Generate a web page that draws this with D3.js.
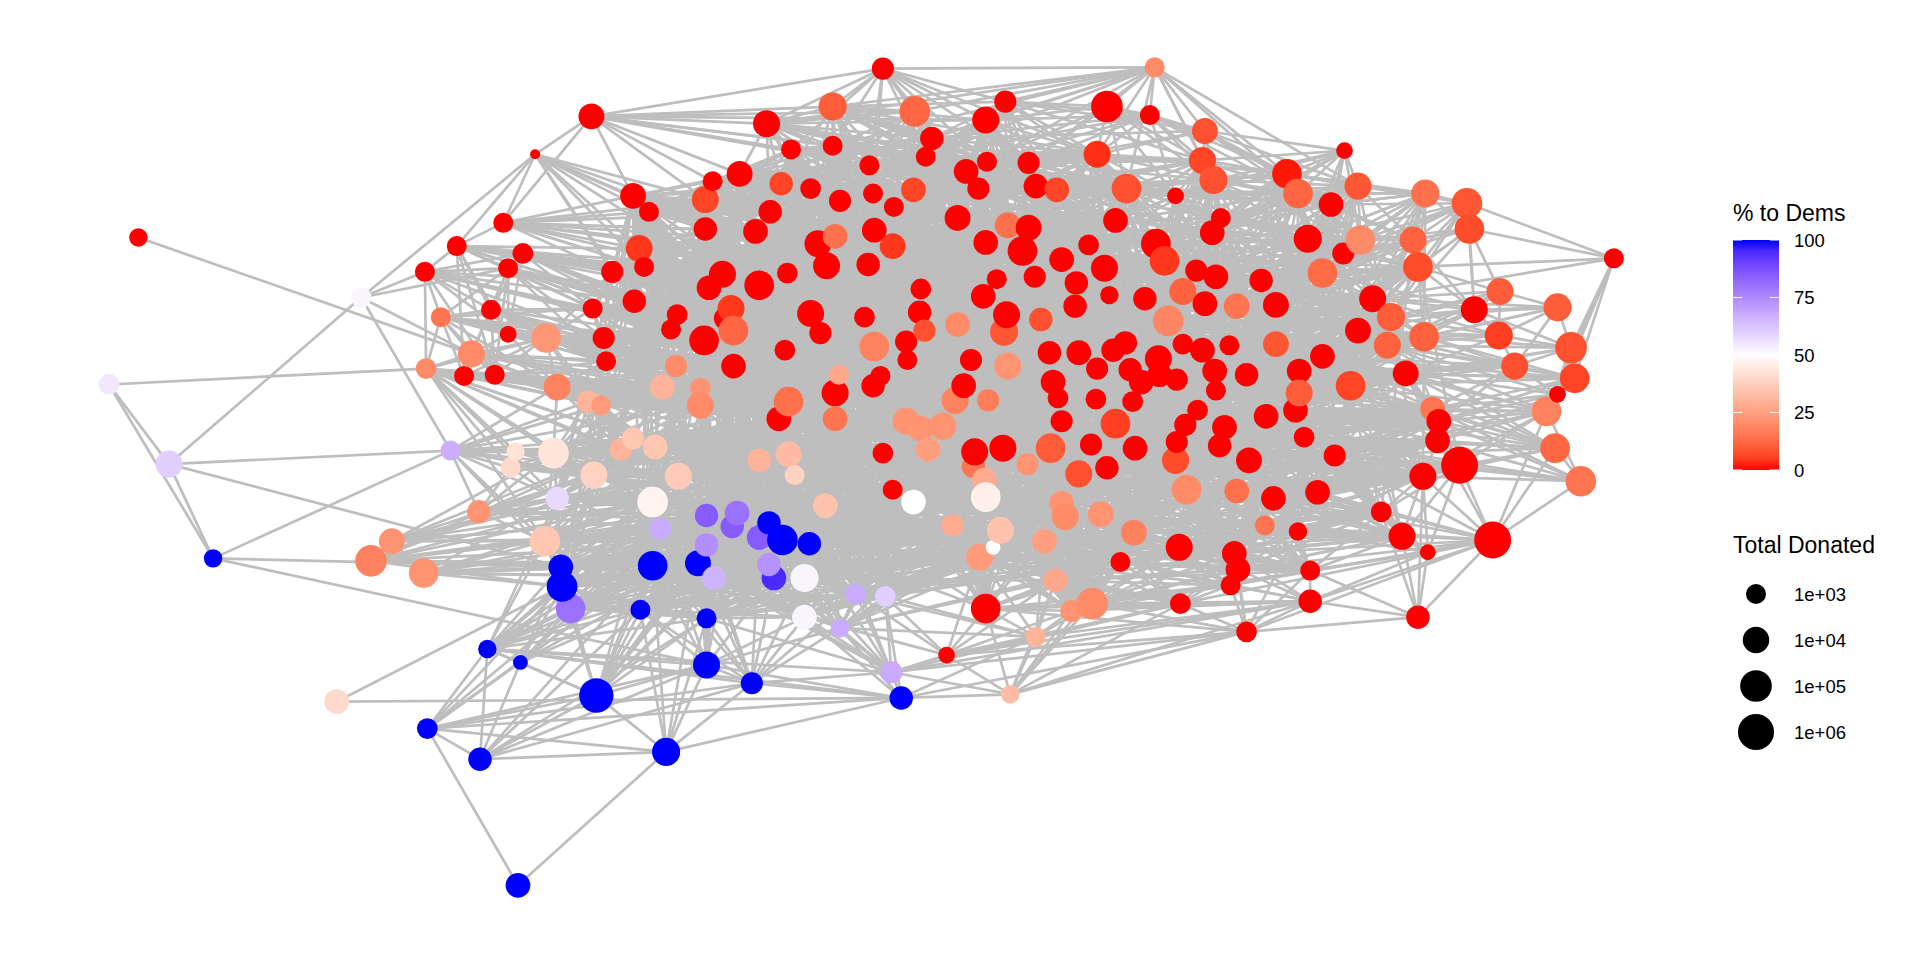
<!DOCTYPE html>
<html>
<head>
<meta charset="utf-8">
<script src="https://d3js.org/d3.v7.min.js"></script>
<style>
  html, body { margin: 0; padding: 0; background: #fff; }
  svg { display: block; font-family: "Liberation Sans", Arial, sans-serif; }
</style>
</head>
<body>
<div id="chart"></div>
<script>
// node layout position (layout units, 1568 x 784)
const nodeX = [
  89,113,138,174,275,295,303,320,346,347,
  348,349,360,368,373,379,385,391,392,398,
  401,404,411,415,415,417,421,423,425,427,
  437,445,446,452,455,455,458,466,459,480,
  483,484,485,487,491,493,495,500,507,517,
  517,518,522,523,526,530,533,533,535,539,
  541,544,548,552,553,554,570,572,572,575,
  576,576,577,577,577,577,579,582,583,590,
  592,597,598,599,599,602,604,614,617,620,
  620,620,626,628,632,628,629,636,638,639,
  641,643,644,644,646,649,657,657,661,662,
  662,668,670,674,675,680,680,682,682,682,
  685,686,686,699,706,709,710,713,713,714,
  714,719,721,721,723,728,729,729,730,736,
  740,740,741,746,746,747,751,752,752,755,
  756,758,761,770,773,778,780,782,782,787,
  789,793,795,796,799,800,803,804,805,805,
  805,805,806,807,811,814,817,819,820,821,
  822,823,823,825,835,839,840,840,845,846,
  846,850,853,857,858,860,862,863,864,867,
  867,867,870,875,878,879,881,881,889,891,
  892,895,896,896,899,902,904,904,906,909,
  911,911,915,919,920,923,925,926,927,932,
  935,939,943,944,946,947,951,954,960,960,
  961,961,963,964,966,966,968,969,977,978,
  982,982,984,984,990,991,992,993,993,996,
  997,1000,1004,1005,1008,1010,1010,1011,1018,1018,
  1020,1030,1033,1034,1040,1042,1042,1051,1058,1060,
  1060,1061,1061,1065,1068,1070,1070,1076,1080,1080,
  1087,1090,1097,1098,1103,1109,1109,1111,1121,1128,
  1133,1136,1145,1148,1154,1158,1158,1162,1163,1164,
  1166,1170,1174,1175,1192,1198,1200,1204,1219,1224,
  1225,1237,1263,1270,1272,1272,1283,1286,1291,1318,
];
const nodeY = [
  314,194,379,456,573,243,458,442,468,222,
  301,595,259,368,201,307,289,418,620,530,
  253,306,182,219,273,382,369,723,541,207,
  126,442,276,370,316,407,463,497,479,328,
  95,252,388,568,331,276,295,222,367,160,
  358,246,203,498,218,173,410,462,365,432,
  316,614,269,299,257,389,460,317,331,278,
  163,187,421,445,505,543,235,148,472,224,
  260,252,430,270,299,419,142,558,189,233,
  376,439,101,427,472,461,173,342,150,441,
  286,223,328,371,122,388,472,504,444,154,
  256,199,272,413,217,87,119,193,321,342,
  306,164,513,485,259,216,135,158,315,188,
  283,307,56,370,487,549,201,400,169,570,
  279,344,294,155,410,91,255,236,350,270,
  128,367,113,348,535,429,327,178,265,315,
  140,294,381,369,154,455,242,392,98,198,
  406,497,132,327,447,228,433,366,271,83,
  257,184,299,567,205,379,133,186,226,152,
  520,261,442,288,366,312,474,155,325,212,
  344,411,422,499,250,231,288,387,200,363,
  493,326,126,301,420,219,87,382,241,286,
  180,346,459,280,154,302,328,435,366,312,
  244,94,55,199,293,306,213,262,160,376,
  310,361,447,493,238,281,347,400,221,335,
  131,286,107,248,190,147,303,226,319,364,
  178,349,282,478,452,250,401,465,306,516,
  376,229,429,340,407,249,281,142,335,158,
  434,303,321,357,195,466,491,402,223,291,
  167,372,207,123,315,152,270,196,244,418,
  282,259,438,305,196,218,504,389,275,158,
  451,334,360,344,380,166,187,253,441,274,
  238,299,336,366,251,322,284,309,393,211,
];
// % of donations going to Democrats
const nodePct = [
  55,0,60,100,40,52,18,22,22,0,
  20,100,15,67,0,0,20,22,100,100,
  0,0,0,0,0,40,42,100,100,0,
  0,35,23,43,18,58,100,80,100,30,
  0,0,38,100,24,0,0,0,30,0,
  35,0,4,100,0,0,47,100,35,68,
  30,100,0,20,0,36,100,22,20,0,
  6,0,85,74,100,100,0,0,66,0,
  0,4,85,12,0,80,0,100,0,0,
  30,85,0,100,95,73,0,0,6,100,
  0,0,14,32,0,38,52,52,100,0,
  0,0,0,34,0,10,0,14,0,15,
  27,0,68,68,0,0,0,0,0,0,
  18,0,0,0,60,68,4,0,0,100,
  0,22,0,6,50,12,0,0,22,8,
  0,25,0,22,0,28,18,0,20,0,
  0,0,15,0,0,24,0,28,0,0,
  46,0,0,17,50,0,34,0,9,0,
  0,14,22,32,0,22,0,0,0,0,
  30,8,25,0,10,0,27,6,0,0,
  0,22,20,22,0,0,0,8,0,0,
  20,0,3,0,22,0,0,0,0,0,
  0,5,0,0,8,0,0,18,0,0,
  0,0,20,0,0,0,4,19,0,7,
  0,0,0,0,11,0,0,20,0,0,
  6,0,8,0,0,8,0,0,0,0,
  0,0,0,0,0,15,14,0,0,0,
  0,0,15,0,0,0,9,1,0,12,
  0,0,10,0,0,0,0,0,13,0,
  0,0,0,0,6,9,0,20,0,0,
  11,10,0,0,11,7,0,0,11,14,
  0,15,0,0,0,9,7,0,0,5,
  10,8,18,12,10,0,8,6,15,0,
];
// log10 of total donated
const nodeLogTotal = [
  3.1,2.8,4.1,2.8,3.7,3.1,5.0,3.9,4.6,3.0,
  3.1,3.1,3.0,3.0,3.0,3.0,4.1,3.5,3.5,2.8,
  3.0,3.0,3.0,3.0,2.6,3.0,2.8,3.7,2.4,3.1,
  2.0,4.8,4.6,4.8,4.1,3.5,3.7,4.6,4.8,3.3,
  3.9,3.0,4.1,5.6,3.0,3.3,3.0,3.3,3.3,3.9,
  3.3,3.5,4.1,3.0,3.0,3.0,4.8,4.6,3.7,3.3,
  3.7,4.3,3.0,3.3,3.1,4.1,3.9,3.1,4.1,4.6,
  4.1,3.5,3.5,3.5,3.0,4.1,3.7,3.0,3.5,4.1,
  3.3,4.1,3.5,4.6,3.7,3.7,3.9,3.3,3.7,4.6,
  3.5,3.7,4.1,3.5,3.7,3.5,3.5,3.7,3.5,4.8,
  3.1,3.1,4.6,3.9,3.0,3.0,4.3,3.7,3.5,3.1,
  4.1,4.1,3.3,3.7,4.1,4.3,3.0,3.7,4.1,3.7,
  3.0,3.3,2.8,3.1,3.1,3.5,3.0,3.0,3.5,3.7,
  4.6,3.0,3.3,3.1,3.1,3.3,3.9,3.0,3.0,3.5,
  3.3,4.1,3.0,3.7,3.7,4.8,3.5,3.1,3.9,3.3,
  3.0,3.7,3.5,4.1,2.6,3.3,4.1,3.9,3.7,3.7,
  3.7,3.3,3.5,4.1,3.3,4.1,3.7,3.7,4.1,3.7,
  4.6,4.6,3.0,3.3,2.4,3.0,4.1,4.1,4.3,3.3,
  4.1,3.9,4.1,2.8,4.6,3.3,3.3,3.9,3.3,3.7,
  3.0,3.5,3.7,3.5,4.6,3.7,3.5,3.7,3.1,3.7,
  3.3,3.7,4.1,3.3,3.5,3.5,3.7,4.1,3.1,3.3,
  5.0,3.1,4.1,3.3,3.9,4.1,5.0,3.5,2.8,3.5,
  3.7,4.6,3.0,3.5,4.6,3.5,3.1,3.9,3.7,3.7,
  3.5,3.0,3.0,4.6,4.1,3.7,4.6,4.8,2.6,4.1,
  3.3,3.3,4.1,3.1,4.1,3.1,3.3,4.6,3.3,3.1,
  4.1,3.7,3.9,3.7,3.7,4.3,3.7,3.7,3.0,3.5,
  3.0,3.7,3.0,3.0,3.7,3.9,3.7,3.7,3.5,3.1,
  3.9,3.5,3.0,3.7,3.7,3.9,3.9,4.6,3.7,4.6,
  2.8,3.7,4.1,3.1,4.3,3.0,3.5,3.7,4.6,3.7,
  3.7,3.3,3.3,2.6,4.6,4.1,3.9,4.6,4.1,3.1,
  4.1,4.3,4.1,3.9,4.1,4.6,3.5,4.1,4.6,4.3,
  2.5,3.7,3.7,3.7,6.2,4.8,4.6,4.1,6.2,4.3,
  4.1,4.1,4.6,4.6,4.3,2.6,5.0,4.6,4.8,3.0,
];

// edges around the outside of the graph, readable one by one
const linksOuter = [
  [1,[16]],[5,[2,9,13,16,23,30]],[0,[2,3,10]],[2,[3,13,36]],[3,[13,36,75]],[4,[38,139]],[27,[11,61]],
  [6,[7,31,36,38,42,48,56,57,58,66,72,90,99,113,144]],
  [7,[8,31,33,35,42,48,56,65,72,85,91,103,113]],
  [8,[31,36,38,35,56,57,59,66,78,82,94,108,106]],
  [17,[13,25,31,33,35,42,56,59,65,72,85,93,103]],
  [13,[25,26,31,33,35,36,42,48,50,58,65,60,34,39,44,68,90]],
  [9,[10,14,12,20,21,23,29,24,41,45,51,62,69,76]],
  [14,[22,23,15,20,24,21,29,47,41,51,52,64,79,89,101,110]],
  [22,[49,52,47,54,55,70,71,76,79,88,96,111,114,125]],
  [29,[20,24,47,41,51,54,62,64,76,89,100,110,124]],
  [23,[20,24,12,16,21,41,45,46,51,62,69,83,100,112]],
  [20,[12,16,21,24,32,41,45,46,63,67,84,100,118]],
  [12,[16,21,10,15,24,32,34,41,45,46,63,69,84]],
  [24,[16,32,34,45,46,63,67,84,118,130]],
  [10,[16,15,21,32,34,39,44,25,26,33,48,50,35,31,58,65,42,60]],
  [15,[16,21,32,34,39,44,60,67,68,97,102]],
  [16,[21,32,34,39,44,60,63,67,84,97,118]],
  [21,[32,34,39,44,46,60,63,68,84,102,118]],
  [25,[26,33,35,42,48,65,90,103,105,113]],
  [26,[33,42,48,50,58,65,90,103]],
  [30,[40,14,22,49,55,47,54,52,70,71,51,79,88]],
  [40,[92,132,115,145,168,86,104,116,49,22,70,77,126,150]],
  [132,[232,92,115,145,168,104,116,126,127,152,150,179,172,186,212,160]],
  [232,[115,145,92,116,150,152,168,179,172,186,216,212,231,252,250,255,224,277,279,295]],
  [329,[315,316,305,298,326,327,322,325]],
  [293,[252,277,279,295,290,255,250,284,297,238,260,254,288]],
  [315,[316,309,295,297,304,305,292,290,284,288,298,301,317]],
  [316,[309,297,304,305,292,288,298,301,317,320]],
  [309,[295,304,297,284,290,292,305,288,279,277]],
  [320,[305,298,301,308,317,319,296,300]],
  [324,[317,319,320,308,300,301,321,326,298]],
  [326,[319,321,317,308,300,303,327,294,322]],
  [327,[321,322,325,300,303,294,289,311,313,281,308]],
  [325,[322,321,311,313,300,303,312]],
  [322,[311,313,312,303,300,294,289,314,307,291,278]],
  [323,[311,312,313,314,303,294,300,289,291,278,283,307,318]],
  [328,[314,307,312,313,322,323,318,311,283,291]],
  [319,[308,300,303,298,296,301,317,321]],
  [321,[303,294,300,308,311,313,296,289,281]],
  [317,[305,298,301,308,300,296,288,304]],
  [318,[314,307,302,310,299,291,287,280,274,285,286,306,243,263,264,267,272,322,312,269]],
  [306,[310,302,299,286,285,269,307]],
  [310,[302,299,287,280,285,307,314,286]],
  [302,[299,280,285,274,287,291,314,307,272,267,264]],
  [299,[280,272,285,287,274,291,267,264,307,314,242]],
  [307,[314,291,287,274,283,278,270,266,239,247,312]],
  [269,[286,243,263,267,285,280,183,139,135,154,171,210,264]],
  [286,[285,243,263,267,264,222,183,190,135,154,171,210,203]],
  [243,[263,267,264,222,210,203,196,171,190,154,183,135]],
  [263,[267,264,222,210,227,214,171,192,196]],
  [285,[264,267,272,274,242,247,227,214,222]],
  [183,[154,135,171,190,139,203,210,196,222]],
  [190,[154,171,134,135,139,123,122,196,203,210,165,192]],
  [154,[135,171,134,123,107,203,196,165]],
  [135,[139,87,122,123,134,74,94,107,106,108,78,66,113]],
  [139,[87,61,75,122,134,107]],
  [87,[61,75,74,53,57,66,78,94,107,106,122,123,73,91]],
  [75,[61,43,74,53,57,66,78,73,94,59,82,72,107,122]],
  [61,[43,53,57,66,74]],
  [43,[11,18,19,28,53,57,36,37,38,66,56,59,72,73,74,78,82,85,91]],
  [11,[18,19,28,61,75,87,139,37,38,57]],
  [18,[19,28,61,75,87,53,74,57]],
  [19,[28,36,37,38,31,35,53,56,57,59,66,74,78,72,73,75,87,139,135]],
  [28,[53,36,38,37,57,66,59]],
];

// the solid core: too dense to read edge by edge, these are estimated to fill the same area
const linksCoreLeft = [
  [53,[36,37,38,31,56,57,59,66,72,73,74,78,82,85,91,93,94,99,106,107,108,113,123,144,155,165]],
  [74,[37,38,56,57,59,66,72,73,78,82,85,91,94,99,106,107,108,113,123,134,144,155,165,176,201]],
  [107,[57,59,66,72,73,78,85,91,94,95,99,106,108,113,123,134,144,155,165,174,192,214,227]],
  [122,[66,78,91,94,106,108,113,123,134,144,155,165,176,192,196,201,222]],
  [123,[78,94,106,108,113,134,144,155,165,176,192,201,214,227,222,242]],
  [134,[106,108,113,144,155,165,176,192,201,214,227,222,242,207,247]],
  [31,[33,36,37,38,35,42,56,57,59,65,66,72,85,93,99,113,144,155,176,201,242]],
  [32,[34,41,45,46,39,60,63,69,83,84,100,110,112,118,124,130,146,158,161,191]],
  [33,[34,35,42,48,50,58,65,90,97,103,105,119,133,141,156,163,177,194]],
  [34,[39,44,46,60,63,67,68,84,97,102,118,128,131,159,173,195,213]],
  [35,[36,42,56,59,65,72,85,90,93,103,113,137,144,155,162,167]],
  [36,[37,38,56,57,59,66,72,73,78,82,91,94,99,113,144,155,176]],
  [37,[38,53,57,59,66,73,78,94,106,108,123,134,165]],
  [38,[56,57,59,66,73,78,94,99,106,108,155,165,176]],
  [39,[44,48,50,58,60,68,97,102,119,128,141,156,173,198]],
  [41,[45,47,51,62,64,69,76,80,81,83,89,100,110,124,146,147,158,166]],
  [42,[48,56,58,65,72,85,90,103,105,113,133,137,151,155,162,167,185]],
  [44,[48,50,58,60,63,67,68,97,102,118,119,141,148,156]],
  [45,[46,51,62,63,64,69,80,83,84,100,112,124,130,140,149,161,193]],
  [46,[60,63,67,68,84,100,112,118,120,128,131,142,159,193,195]],
  [47,[49,51,52,54,55,76,79,81,89,101,111,114,125,136,147,166,175]],
  [48,[50,56,58,65,90,97,103,105,119,133,141,148,151,163]],
  [49,[52,54,55,70,71,77,79,86,88,96,98,109,111,117,129,136,157]],
  [50,[58,60,65,68,90,97,102,103,119,133,141,153,163,177]],
  [51,[52,54,62,64,69,76,79,80,81,83,89,101,110,114,124,146,147,166,180]],
  [52,[54,55,70,71,76,79,88,89,96,101,111,114,125,136,147,157,169,175]],
  [54,[55,71,76,79,81,88,89,101,111,114,125,129,136,147,166,169,175,184]],
  [55,[70,71,77,79,86,88,96,98,109,111,117,121,129,138,157,164]],
  [56,[57,59,65,72,82,85,90,93,103,105,113,137,144,155,167,176,202,214]],
  [57,[59,66,72,73,78,82,91,93,94,99,106,108,113,144,165,176,201]],
  [58,[60,65,68,90,97,102,103,119,133,141,151,153,163,177,194]],
  [59,[66,72,73,78,82,85,91,93,94,99,108,113,144,155,176,192,201]],
  [60,[63,67,68,84,97,102,118,120,128,131,156,159,173,195,198]],
  [62,[63,64,69,80,81,83,84,100,110,112,124,130,140,146,149,158,178]],
  [63,[67,68,69,83,84,97,100,112,118,120,128,131,142,159,161,193,213]],
  [64,[69,76,79,80,81,83,89,101,110,124,146,147,158,166,180,191]],
  [65,[66,72,85,90,97,103,105,113,119,133,137,151,155,162,167,185]],
  [66,[72,73,78,82,91,93,94,95,99,106,108,113,144,165,174,192]],
  [67,[68,84,97,102,118,120,128,131,142,156,159,173,182,195,213,225]],
  [68,[90,97,102,103,118,119,128,141,153,156,173,198,200,211,226]],
  [69,[80,83,84,100,110,112,124,130,140,146,149,161,178,193,206,219]],
  [70,[71,77,86,88,96,98,109,111,117,121,127,129,136,138,143,157,164]],
  [71,[76,79,88,96,101,111,114,117,125,129,136,147,157,169,181,187]],
  [72,[73,82,85,90,91,93,99,103,105,113,137,144,155,167,170,176]],
  [73,[78,82,91,93,94,95,99,108,113,144,155,165,176]],
  [76,[79,81,89,101,110,114,125,146,147,166,175,180,188,204]],
  [77,[86,96,98,104,109,116,121,126,127,138,143,150,160,164,186]],
  [78,[94,95,99,106,108,113,144,165,174,176,192]],
  [79,[88,89,101,111,114,125,136,147,166,169,175,184,188,199]],
  [80,[81,83,100,110,112,124,130,146,149,158,178,191,204]],
  [81,[89,100,110,124,146,147,158,166,180,191,204,218]],
  [83,[84,100,112,130,140,142,149,161,178,193,206,223]],
  [84,[97,100,102,112,118,120,128,130,131,142,159,161,182,193,213,225,235]],
  [85,[90,91,93,103,105,113,137,144,155,162,167,170,176,201]],
  [86,[92,96,98,104,109,116,121,126,127,138,143,150,152,160,164,172]],
  [88,[89,96,101,111,114,117,125,129,136,157,169,181,184,187,199,208]],
  [89,[101,110,114,124,125,146,147,166,175,180,188,204,205,218]],
  [90,[97,103,105,119,133,137,141,151,153,162,163,167,185,207]],
  [91,[93,94,99,108,113,144,155,165,176,192,201,214]],
  [92,[96,98,104,109,115,116,121,126,127,138,145,150,152,160,168,172,186]],
  [93,[99,105,108,113,137,144,155,167,170,176,202]],
  [94,[95,99,106,108,144,165,174,192,196]],
  [95,[99,106,108,113,144,165,176]],
  [96,[98,109,111,117,121,127,129,136,138,143,157,164,181,187,189]],
  [97,[102,103,118,119,128,133,141,148,151,153,156,163,177,194,200,209]],
  [98,[104,109,116,121,126,127,138,143,150,160,164,172,189,197]],
  [99,[106,108,113,137,144,155,165,167,170,176,192,202,214]],
  [100,[102,112,118,120,128,130,131,140,142,149,159,161,178,193,206,213]],
  [101,[110,111,114,124,125,136,146,147,166,175,180,188,205]],
  [102,[103,118,119,128,131,141,148,153,156,159,173,177,194,198,200,211]],
  [103,[105,119,133,137,141,148,151,153,162,163,167,177,185,207,209]],
  [104,[109,116,121,126,127,138,143,150,152,160,164,172,186,189]],
  [105,[113,133,137,144,151,155,162,167,170,185,201]],
  [106,[107,108,113,123,134,144,165,174,176,192,196,222]],
  [108,[113,137,144,155,165,170,176,192,201,202,214,227]],
  [109,[116,117,121,126,127,129,138,143,157,160,164,181,189,197]],
  [110,[112,114,124,125,130,140,146,147,149,158,166,178,180,191,204]],
  [111,[114,117,125,129,136,147,157,169,175,181,184,187,188,199,208]],
  [112,[118,120,124,130,140,142,146,149,158,161,178,193,206,219]],
  [113,[133,137,144,151,155,162,165,167,170,176,185,192,201,202,214]],
  [114,[117,125,129,136,146,147,166,169,175,180,184,188,199,205,215]],
  [115,[116,126,127,138,145,150,152,160,164,168,172,179,186,189,212]],
  [116,[121,126,127,138,143,150,152,160,164,172,186,189,197,212]],
  [117,[121,125,129,136,138,157,169,181,184,187,199,208,220]],
  [118,[119,120,128,131,141,142,156,159,173,182,195,198,211,213,226]],
  [119,[133,141,148,151,153,156,163,173,177,185,194,200,209]],
  [120,[128,130,131,142,156,159,161,173,182,193,195,213]],
  [121,[126,127,129,136,138,143,157,160,164,181,187,189,197,220,224]],
];
const linksCoreMiddle = [
  [124,[125,130,140,146,147,149,158,166,178,180,191,204,218]],
  [125,[129,136,146,147,166,169,175,180,184,188,199,205,215]],
  [126,[127,138,143,150,152,160,164,172,186,189,197,212,224]],
  [127,[129,136,138,143,157,160,164,181,187,189,197,220,224]],
  [128,[130,131,141,142,156,159,161,173,182,195,198,211,225,226]],
  [129,[136,138,143,157,169,181,184,187,199,208,220,233]],
  [130,[131,140,142,149,158,159,161,178,182,193,206,213,219,223]],
  [131,[141,142,156,159,161,173,182,195,198,213,225,229]],
  [133,[137,141,144,148,151,153,162,163,167,177,185,194,207,209,217]],
  [136,[138,143,147,157,166,169,175,181,184,187,199,205,208,215]],
  [137,[144,151,155,162,167,170,176,185,201,202,214]],
  [138,[143,157,160,164,181,187,189,197,220,224,233]],
  [140,[142,146,149,158,161,178,180,191,193,206,219,223,237]],
  [141,[148,151,153,156,163,173,177,194,198,200,209,221]],
  [142,[149,156,159,161,173,178,182,193,195,206,213,225]],
  [143,[157,160,164,172,181,186,187,189,197,212,220,224]],
  [144,[151,155,162,165,167,170,174,176,185,192,201,202,207,214,217]],
  [146,[147,149,158,166,175,178,180,188,191,204,205,218,230]],
  [147,[158,166,169,175,180,184,188,199,204,205,215,218,230]],
  [148,[151,153,156,163,177,185,194,200,209,221,228]],
  [149,[158,161,178,180,191,193,204,206,219,223,237,245]],
  [150,[152,160,164,168,172,179,186,189,197,212,224,231,250]],
  [151,[153,162,163,167,177,185,194,207,209,217,228]],
  [152,[160,164,168,172,179,186,189,197,212,224,231,252]],
  [153,[156,163,173,177,185,194,198,200,209,211,221,228]],
  [155,[162,165,167,170,174,176,185,192,201,202,207,214,222,227]],
  [156,[159,163,173,177,182,194,195,198,200,211,213,226,229]],
  [157,[164,169,181,184,187,189,199,208,215,220,233,236]],
  [158,[161,166,178,180,191,193,204,206,218,219,223,230,237]],
  [159,[161,173,182,195,198,211,213,225,226,229,235]],
  [160,[164,172,181,186,187,189,197,212,220,224,238]],
  [161,[173,178,182,193,195,206,213,219,223,225,235]],
  [162,[163,167,170,177,185,194,201,202,207,209,217,228,239]],
  [163,[173,177,185,194,200,207,209,217,221,228,241]],
  [164,[172,181,186,187,189,197,208,212,220,224,233,238]],
  [165,[170,174,176,192,196,201,202,203,210,214,222,227,242]],
  [166,[175,178,180,184,188,191,204,205,215,218,230,244]],
  [167,[170,176,185,192,201,202,207,214,217,227,239,247]],
  [168,[172,179,186,189,197,212,216,224,231]],
  [169,[175,181,184,187,188,199,205,208,215,220,233,236]],
  [170,[176,185,192,201,202,207,214,217,227,239,247]],
  [171,[196,203,210,176,192,201,222,242,165]],
  [172,[179,186,189,197,212,216,224,231,238,250]],
  [173,[177,182,194,195,198,200,211,213,226,229,240,249]],
  [174,[176,192,196,201,202,214,222]],
  [175,[180,184,188,191,199,204,205,215,218,230,244,257]],
  [176,[185,192,196,201,202,214,222,227,242,247]],
  [177,[185,194,200,207,209,217,221,228,239,241,246]],
  [178,[180,191,193,204,206,218,219,223,237,245,251]],
  [179,[186,189,197,212,216,224,231,250,252]],
  [180,[188,191,204,205,206,218,219,223,230,237,244,253]],
  [181,[184,187,189,197,199,208,215,220,224,233,236,254]],
  [182,[193,195,198,206,211,213,225,226,229,235,240,256]],
  [184,[187,188,199,205,208,215,220,233,236,248,257]],
  [185,[194,201,202,207,209,214,217,221,228,239,241,247]],
  [186,[189,197,212,216,224,231,238,250,255,252]],
  [187,[189,197,199,208,215,220,224,233,236,254,260]],
  [188,[191,199,204,205,215,218,230,236,244,248,253,257]],
  [189,[197,208,212,220,224,233,238,250,255,254,260]],
  [191,[193,204,206,218,219,223,230,237,244,245,253,265]],
  [192,[196,201,202,203,210,214,222,227,242,264]],
  [193,[195,206,213,219,223,225,234,235,245,251,256,262]],
  [194,[200,207,209,217,221,228,239,241,246,249,259,261]],
  [195,[198,206,211,213,225,226,229,235,240,249,258,268]],
  [196,[201,202,203,210,214,222,227,242,243,264,267]],
  [197,[208,212,220,224,233,238,250,255,254,260,279,277]],
  [198,[200,211,213,221,226,229,240,249,258,261,273]],
  [199,[205,208,215,218,220,230,233,236,244,248,257,271]],
  [200,[207,209,211,217,221,226,228,241,246,249,259,261]],
  [201,[202,207,214,217,222,227,239,242,247,266]],
  [202,[207,214,217,222,227,242,247,266,272]],
  [203,[210,222,227,242,243,263,264,267]],
];
const linksCoreRight = [
  [204,[205,206,218,219,223,230,237,244,245,253,265,275]],
  [205,[215,218,230,236,237,244,248,253,257,265,271]],
  [206,[213,219,223,225,234,235,237,245,251,256,262,276]],
  [207,[209,214,217,221,227,228,239,241,247,259,266,270]],
  [208,[215,220,224,233,236,248,254,260,284]],
  [209,[217,221,226,228,239,241,246,249,259,261,270]],
  [210,[222,227,242,243,263,264,267,272]],
  [211,[213,221,225,226,229,235,240,249,258,273,278]],
  [212,[216,224,231,238,250,252,255,277]],
  [213,[219,223,225,229,234,235,240,245,251,256,258,268]],
  [214,[217,222,227,239,242,247,266,272,274]],
  [215,[218,220,230,233,236,244,248,254,257,271,284,288]],
  [216,[224,231,238,250,252,255]],
  [217,[221,227,228,239,241,247,259,266,270,274,287]],
  [218,[223,230,237,244,245,253,257,265,275]],
  [219,[223,225,234,235,237,245,251,256,262,276,281]],
  [220,[224,233,236,238,248,254,255,260,279,284]],
  [221,[226,228,229,239,241,246,249,259,261,273,278,283]],
  [222,[227,242,243,247,263,264,266,267,272,285]],
  [223,[225,230,234,237,245,251,253,256,262,265,276,289]],
  [224,[233,236,238,250,254,255,260,277,279,284,290]],
  [225,[226,229,234,235,240,245,251,256,258,268,281]],
  [226,[229,235,240,246,249,258,261,268,273,278,282]],
  [227,[239,242,247,264,266,267,272,274,280,285]],
  [228,[239,241,246,249,259,261,270,283,291]],
  [229,[234,235,240,249,256,258,268,278,281,282,294]],
  [230,[233,236,237,244,248,253,257,265,271,275,288,296]],
  [231,[238,250,252,255,277,279]],
  [233,[236,244,248,254,257,260,271,284,288,292,297]],
  [234,[235,240,245,251,256,262,268,276,281,289]],
  [235,[240,249,256,258,268,281,282,294]],
  [236,[244,248,254,257,260,271,275,284,288,292,297]],
  [237,[244,245,251,253,262,265,275,276,289,296,300]],
  [238,[250,254,255,260,277,279,284,290,295]],
  [239,[241,246,247,259,261,266,270,274,283,287,291]],
  [240,[249,256,258,268,278,281,282,289,294]],
  [241,[246,249,259,261,270,273,278,283,291,312]],
  [242,[247,263,264,266,267,272,274,280,285,299]],
  [244,[248,253,257,265,271,275,288,296,298]],
  [245,[251,256,262,265,268,276,281,289,296,300]],
  [246,[249,259,261,273,278,283,291,294,311]],
  [247,[259,264,266,270,272,274,280,287,291,299]],
  [248,[254,257,260,271,275,284,288,292,297,298]],
  [249,[258,261,268,273,278,282,283,294]],
  [250,[252,255,260,277,279,290,295]],
  [251,[256,262,265,268,276,281,289,296,300,303]],
  [252,[255,277,279,290,295,260]],
  [253,[257,262,265,271,275,276,288,296,298,301]],
  [254,[257,260,271,279,284,288,290,292,297,304]],
  [255,[260,277,279,284,290,295,297]],
  [256,[258,262,268,276,281,282,289,294,303]],
  [257,[260,265,271,275,284,288,292,297,298]],
  [258,[261,268,273,278,281,282,294,303]],
  [259,[261,266,270,273,278,283,287,291,307,312]],
  [260,[271,279,284,288,290,292,295,297,304]],
  [261,[270,273,278,282,283,291,294,311,313]],
  [262,[265,268,275,276,281,289,296,300,303]],
  [264,[266,267,272,274,280,285,287,299,302]],
  [265,[271,275,276,288,296,298,301,308]],
  [266,[270,272,274,280,287,291,299,307]],
  [267,[272,274,280,285,299,302]],
  [268,[273,276,278,281,282,289,294,303,311]],
  [270,[273,274,278,283,287,291,307,312,314]],
  [271,[275,284,288,292,296,297,298,301,305]],
  [272,[274,280,285,287,299,302,307]],
  [273,[278,282,283,291,294,303,311,313]],
  [274,[280,287,291,299,302,307,314]],
  [275,[276,288,296,298,301,305,308]],
  [276,[281,289,296,300,301,303,308]],
  [277,[279,290,295,284,309,297]],
  [278,[282,283,291,294,303,311,313,312]],
  [279,[284,290,295,297,292,304,309]],
  [280,[285,287,299,302,307]],
  [281,[282,289,294,296,300,303,311]],
  [282,[283,289,294,303,311,313]],
  [283,[291,294,307,311,312,313,314]],
  [284,[288,290,292,297,298,304,305]],
  [287,[291,299,302,307,314,312]],
  [288,[292,296,297,298,301,304,305,308]],
  [289,[294,296,300,303,308,311]],
  [290,[292,295,297,304,309]],
  [291,[299,307,312,313,314]],
  [292,[297,298,301,304,305]],
  [294,[300,303,311,313,308,312]],
  [295,[297,304,309]],
  [296,[298,300,301,303,305,308]],
  [297,[298,304,305]],
  [298,[301,305,308,300]],
  [300,[301,303,308,311]],
  [301,[305,308]],
  [303,[308,311,312,313,314]],
  [305,[308]],
  [311,[312,313,314]],
  [312,[313,314]],
  [313,[314]],
];
// long edges crossing the core, top to bottom
const linksCoreDown = [
  [49,[31,35,38,42,53,56,57,59,66,72,78,85,93,99,107,113,137]],
  [55,[31,36,42,53,57,59,65,73,74,82,91,105,106,113,123,144,162]],
  [70,[35,38,53,56,59,66,72,74,85,94,99,107,108,137,155,165,170]],
  [71,[36,42,57,65,73,78,82,93,105,106,113,123,134,144,167,176,192]],
  [77,[38,53,56,66,72,74,91,94,99,107,108,137,155,162,171,201]],
  [86,[42,53,59,65,73,78,85,105,106,113,123,134,144,165,176,192,202]],
  [88,[53,57,66,74,82,93,107,108,137,155,162,167,171,196,207,214]],
  [96,[59,72,78,91,94,99,106,113,123,134,144,165,170,192,201,217]],
  [98,[57,65,73,85,105,107,108,137,155,162,176,196,203,210,222]],
  [104,[66,74,82,93,99,106,113,123,134,144,167,171,201,207,227]],
  [109,[72,78,91,94,107,108,137,155,165,170,192,202,214,222,242]],
  [116,[73,85,105,106,113,123,134,144,162,176,196,203,210,217,247]],
  [117,[74,82,93,99,107,108,137,155,167,171,201,207,227,239,264]],
  [121,[78,91,94,106,113,123,134,144,165,170,192,202,214,222,242]],
  [126,[85,105,107,108,137,155,162,176,196,203,217,227,247,266]],
  [127,[82,93,99,106,113,123,134,144,167,171,201,207,210,239,264]],
  [129,[91,94,107,108,137,155,165,170,192,202,214,222,242,272]],
  [138,[105,106,113,123,134,144,162,176,196,203,217,227,247,274]],
  [143,[93,99,107,108,137,155,167,171,201,207,210,239,264,266]],
  [150,[94,106,113,123,134,144,165,170,192,202,214,222,242,267]],
  [152,[107,108,137,155,162,176,196,203,217,227,247,272,280]],
  [157,[99,106,123,134,144,167,171,201,207,210,239,264,274,287]],
  [160,[108,113,137,155,165,170,192,202,214,222,242,266,285]],
  [164,[123,134,144,162,176,196,203,217,227,247,267,280]],
  [168,[113,137,155,167,171,201,207,210,239,264,272,287]],
  [172,[134,144,165,170,192,202,214,222,242,266,274,299]],
  [181,[137,155,162,176,196,203,217,227,247,267,285]],
  [186,[144,167,171,201,207,210,239,264,272,287,302]],
  [187,[155,165,170,192,202,214,222,242,266,274,299]],
  [189,[162,176,196,203,217,227,247,267,280,307]],
  [197,[167,171,201,207,210,239,264,272,287]],
  [208,[165,170,192,202,214,222,242,266,274,299,302]],
  [212,[176,196,203,217,227,247,267,280,285,307]],
  [220,[171,201,207,210,239,264,272,287,299]],
  [224,[170,192,202,214,222,242,266,274,302,307]],
  [238,[196,203,217,227,247,267,280,285]],
  [250,[201,207,210,239,264,272,287,307]],
  [254,[192,202,214,222,242,266,274,299]],
  [255,[203,217,227,247,267,280,302]],
  [260,[207,210,239,264,272,287,299]],
  [277,[214,222,242,266,274,307]],
  [279,[217,227,247,267,280,302]],
  [284,[210,239,264,272,287,299,307]],
  [290,[222,242,266,274,302]],
  [295,[227,247,267,280,307]],
  [297,[239,264,272,287,314]],
  [304,[247,266,274,299,314]],
  [309,[239,270,287,307]],
];
// long edges crossing the core, left to right and diagonal
const linksCoreAcross = [
  [32,[100,118,130,159,161,182,193,206,213,223,234,245,251,262]],
  [34,[97,128,131,141,156,173,195,198,211,226,235,240,258,268]],
  [33,[119,133,148,153,163,177,200,209,221,228,246,249,261,278]],
  [39,[118,141,156,182,195,211,229,240,268,282]],
  [41,[130,149,158,178,191,206,219,237,245,265,276]],
  [45,[118,130,142,159,182,193,213,225,234,256,281]],
  [46,[141,156,173,195,213,229,235,258,273,294]],
  [48,[153,177,194,209,221,241,259,273,283]],
  [50,[156,173,198,211,226,240,249,278,291]],
  [58,[163,185,207,217,228,239,247,270,287]],
  [60,[141,182,213,229,256,268,281,294]],
  [62,[142,161,193,206,223,251,276,289,300]],
  [63,[156,182,213,235,258,282,303]],
  [64,[149,178,204,219,245,262,281,296]],
  [67,[173,198,226,249,273,294]],
  [68,[163,194,221,241,261,283,311]],
  [69,[158,191,223,237,253,265,276,301]],
  [76,[158,180,204,218,230,253,275,296,308]],
  [79,[180,205,230,244,257,275,298]],
  [89,[191,204,237,253,265,276,300]],
  [83,[161,206,234,256,281,303]],
  [84,[159,195,225,258,282,311]],
  [97,[177,200,241,261,283,312]],
  [102,[182,211,240,268,294]],
  [110,[178,206,245,262,289,303]],
  [114,[166,205,218,244,271,296]],
  [101,[175,199,215,248,271,298]],
  [111,[169,208,233,257,288,305]],
  [125,[191,218,237,265,296]],
  [133,[185,217,239,270,291,307]],
  [141,[198,229,258,282,311]],
  [146,[193,223,251,276,300]],
  [158,[213,234,256,281,303]],
  [166,[206,223,245,276,308]],
  [175,[219,237,262,289]],
  [180,[213,234,262,281]],
  [184,[204,230,253,275,301]],
  [199,[223,245,265,296]],
  [215,[237,251,276,296]],
  [57,[133,151,177,209,228]],
  [66,[133,162,185,217,239]],
  [59,[103,119,153,194,221]],
  [85,[119,148,163,200,246]],
  [99,[151,163,194,228,261]],
  [113,[141,148,177,209,246]],
  [155,[177,194,217,241,270]],
  [165,[185,207,228,259]],
  [176,[207,221,241,259,291]],
  [192,[217,228,246,278]],
  [201,[228,241,261,283]],
  [214,[241,259,270,291]],
  [227,[259,270,283,312]],
  [242,[259,270,287,291,312]],
  [247,[273,278,283,313]],
  [266,[278,283,291,313]],
  [274,[283,312,313,314]],
];
// fans from nodes on the rim of the core back into it
const linksCoreFans = [
  [298,[199,205,218,236,244,253,265,275,206,223,237,251,262,276,289,234,245,256,281]],
  [301,[204,215,230,248,257,271,193,219,245,262,276,281,213,235,268,278,282]],
  [305,[205,218,230,244,257,265,275,206,237,253,262,276,289]],
  [308,[206,213,223,234,245,251,256,262,268,276,281,289,229,240,258,273,278,282]],
  [300,[195,211,225,235,240,249,258,268,273,278,282,200,209,221,241,261,283]],
  [303,[198,226,229,240,249,258,273,278,194,228,246,259,261,283,291,239,270]],
  [294,[200,207,217,228,239,241,246,259,261,270,287,291,211,226]],
  [311,[194,209,221,228,241,246,259,261,270,283,291,287,266,274]],
  [312,[194,207,217,239,247,259,266,270,274,287,283,291]],
  [313,[185,209,221,228,241,246,261,273,278,283,270]],
  [314,[201,202,214,217,227,239,247,266,270,274,287,291,272]],
  [307,[202,214,227,242,272,280,259]],
  [302,[192,201,214,222,227,242,247,266,239,217]],
  [299,[192,196,214,222,227,247,266,207,217,239]],
  [285,[165,192,196,201,202,210,207,217,239]],
  [267,[165,176,192,196,201,202,210,214,207,217,239]],
  [264,[155,165,176,192,201,202,207,214,217,239]],
  [263,[165,176,201]],
  [243,[165,176,201,214]],
  [222,[144,155,162,165,167,170,176,185,207,217]],
  [210,[144,155,165,170,176,185,192,201,202]],
  [203,[144,155,165,170,176,185,201]],
  [171,[108,113,144,155,170,137]],
  [134,[91,99,137,176]],
  [123,[72,85,93,99,137]],
  [107,[82,93,137,170]],
  [74,[93,105,137]],
  [53,[65,90,103,105]],
  [212,[157,160,164,169,181,184,187,189,197,199,208,215,220,233,236]],
  [224,[157,164,169,181,184,187,199,208,215,248]],
  [250,[186,189,197,208,220,224,233,236,254]],
  [255,[189,197,208,220,233,236,248]],
  [277,[224,233,236,238,248,254,257,260]],
  [279,[224,233,236,248,254,257,271,288]],
  [295,[254,257,260,271,284,288,292]],
  [290,[254,257,260,271,288]],
  [284,[233,236,248,254,257,271,275]],
  [288,[230,236,244,248,253,257,265,271,275]],
  [297,[254,257,260,271,275,284,288]],
  [304,[271,275,284,288,292,296,298]],
  [309,[260,271,284,288,292,298]],
  [115,[98,109,121,127,129,138,143]],
  [145,[109,116,121,126,127,138,143,150,157,160,164]],
  [168,[127,138,143,150,157,160,164,181,187,189]],
  [179,[143,150,157,160,164,172,181,187]],
  [92,[117,129]],
  [104,[70,71,88,96,111,117,129]],
  [86,[70,71,88,111,117,129]],
  [77,[55,70,71,79,88,111]],
  [47,[32,41,45,62,64,69,80,83]],
  [49,[47,51,62,64,69,76,81,89,101]],
  [52,[41,45,51,62,64,69,80,81,83,89,110]],
  [41,[32,46,60,63,67,84]],
  [32,[44,67,68,97]],
  [33,[39,44,60,67,68,84]],
  [34,[48,50,58,65,90,103]],
  [42,[33,39,44,50,68,97]],
  [35,[33,48,50,58]],
  [31,[48,50,58,90,105]],
  [36,[42,65,85,90,93,105]],
  [37,[56,65,72,82,85,93]],
  [38,[35,42,65,72,85,93]],
];

const pctTicks = [0, 25, 50, 75, 100];
const sizeBreaks = [3, 4, 5, 6];
const sizeLabels = ["1e+03", "1e+04", "1e+05", "1e+06"];

const width = 1920;
const height = 960;

const x = d3.scaleLinear().domain([0, 1568]).range([0, width]);
const y = d3.scaleLinear().domain([0, 784]).range([0, height]);

const colour = d3
  .scaleLinear()
  .domain([0, 50, 100])
  .range(["#ff0000", "#ffffff", "#0000ff"])
  .interpolate(d3.interpolateLab);

// area grows with log10(total)
const area = d3.scaleLinear().domain([3, 6]).range([100, 325]);
const radius = (v) => Math.sqrt(area(v));

const svg = d3
  .select("#chart")
  .append("svg")
  .attr("width", width)
  .attr("height", height);

const edges = [
  ...linksOuter,
  ...linksCoreLeft,
  ...linksCoreMiddle,
  ...linksCoreRight,
  ...linksCoreDown,
  ...linksCoreAcross,
  ...linksCoreFans,
].flatMap(([source, targets]) => targets.map((target) => ({ source, target })));

svg
  .append("g")
  .attr("stroke", "#bebebe")
  .attr("stroke-width", 2.7)
  .selectAll("line")
  .data(edges)
  .join("line")
  .attr("x1", (d) => x(nodeX[d.source]))
  .attr("y1", (d) => y(nodeY[d.source]))
  .attr("x2", (d) => x(nodeX[d.target]))
  .attr("y2", (d) => y(nodeY[d.target]));

svg
  .append("g")
  .selectAll("circle")
  .data(nodeX.map((_, i) => i))
  .join("circle")
  .attr("cx", (i) => x(nodeX[i]))
  .attr("cy", (i) => y(nodeY[i]))
  .attr("r", (i) => radius(nodeLogTotal[i]))
  .attr("fill", (i) => colour(nodePct[i]));

// colour legend
const legendX = 1733;
const barWidth = 46;
const barY = d3.scaleLinear().domain([0, 100]).range([470, 240]);

svg
  .append("text")
  .attr("x", legendX)
  .attr("y", 221)
  .style("font-size", "23px")
  .text("% to Dems");

const gradient = svg
  .append("defs")
  .append("linearGradient")
  .attr("id", "pct-bar")
  .attr("x1", 0)
  .attr("y1", 1)
  .attr("x2", 0)
  .attr("y2", 0);

gradient
  .selectAll("stop")
  .data(d3.range(0, 101, 5))
  .join("stop")
  .attr("offset", (d) => d / 100)
  .attr("stop-color", (d) => colour(d));

svg
  .append("rect")
  .attr("x", legendX)
  .attr("y", barY(100))
  .attr("width", barWidth)
  .attr("height", barY(0) - barY(100))
  .attr("fill", "url(#pct-bar)");

const tickG = svg.append("g").selectAll("g").data(pctTicks).join("g");

tickG
  .append("line")
  .attr("x1", legendX)
  .attr("x2", legendX + barWidth / 5)
  .attr("y1", (d) => barY(d))
  .attr("y2", (d) => barY(d))
  .attr("stroke", "#fff");

tickG
  .append("line")
  .attr("x1", legendX + barWidth - barWidth / 5)
  .attr("x2", legendX + barWidth)
  .attr("y1", (d) => barY(d))
  .attr("y2", (d) => barY(d))
  .attr("stroke", "#fff");

tickG
  .append("text")
  .attr("x", 1794)
  .attr("y", (d) => barY(d))
  .attr("dy", "0.36em")
  .style("font-size", "18.5px")
  .text((d) => d);

// size legend
const sizeY = d3.scalePoint().domain(sizeBreaks).range([594, 732]);

svg
  .append("text")
  .attr("x", legendX)
  .attr("y", 553)
  .style("font-size", "23px")
  .text("Total Donated");

svg
  .append("g")
  .selectAll("circle")
  .data(sizeBreaks)
  .join("circle")
  .attr("cx", 1756)
  .attr("cy", (d) => sizeY(d))
  .attr("r", (d) => radius(d))
  .attr("fill", "#000");

svg
  .append("g")
  .selectAll("text")
  .data(sizeBreaks)
  .join("text")
  .attr("x", 1794)
  .attr("y", (d) => sizeY(d))
  .attr("dy", "0.36em")
  .style("font-size", "18.5px")
  .text((d, i) => sizeLabels[i]);
</script>
</body>
</html>
